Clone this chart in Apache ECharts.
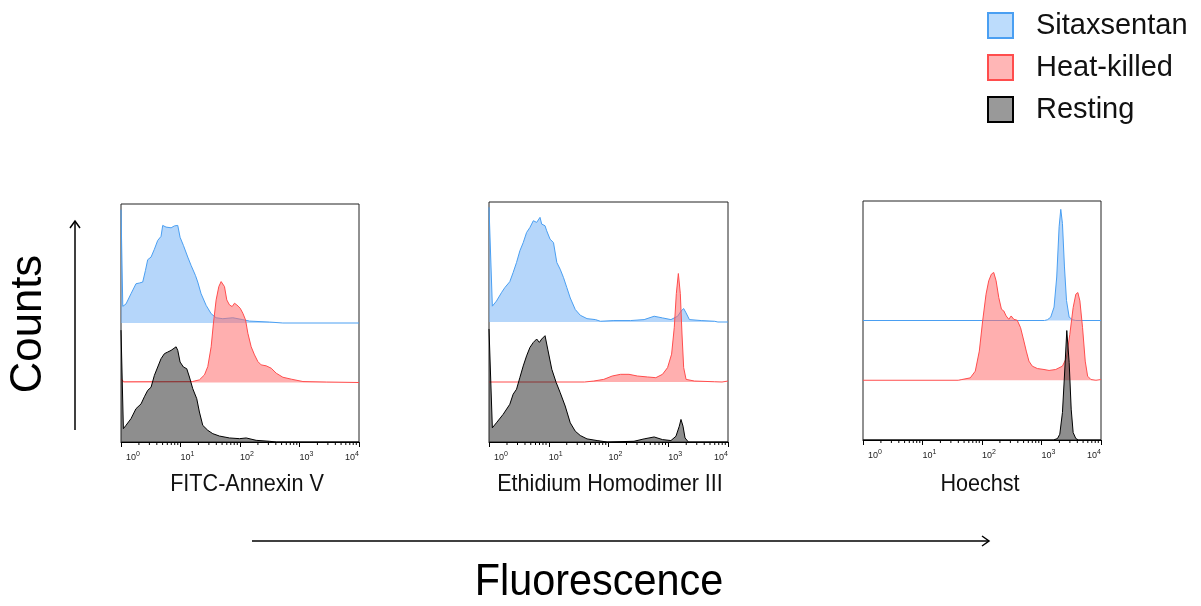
<!DOCTYPE html>
<html>
<head>
<meta charset="utf-8">
<script src="https://cdn.jsdelivr.net/npm/echarts@6/dist/echarts.min.js"></script>
<style>
  html, body { margin: 0; padding: 0; background: #fff; }
  #main { width: 1201px; height: 606px; }
</style>
</head>
<body>
<div id="main"></div>
<script>
const seriesNames = ['Sitaxsentan', 'Heat-killed', 'Resting']
const panelTitles = ['FITC-Annexin V', 'Ethidium Homodimer III', 'Hoechst']
const decadeTicks = [0, 1, 2, 3, 4]
// each histogram sits on its own baseline (% of panel height)
const offsets = [50, 25, 0]

// [log10 fluorescence, counts as % of panel height]
const annexinSitax = [[0,47.6],[0.03,7],[0.084,8],[0.168,12.3],[0.252,16.5],[0.309,16.8],[0.365,17.2],[0.41,22],[0.449,26.6],[0.505,27.7],[0.561,31],[0.617,34.7],[0.673,36.4],[0.701,41],[0.757,40.3],[0.785,41],[0.842,40],[0.898,40.8],[0.954,41],[0.993,36],[1.049,32.6],[1.122,27.7],[1.178,24.2],[1.251,20],[1.29,17.2],[1.346,12.3],[1.431,7.4],[1.515,3.9],[1.599,2.2],[1.711,1.8],[1.879,2.2],[2.048,1.4],[2.16,0.8],[2.497,0.4],[2.72,0],[4,0]]
const annexinHeat = [[0,1.5],[0.05,0.3],[1.2,0.4],[1.318,1.1],[1.403,3.2],[1.459,6.7],[1.515,15],[1.554,25],[1.599,34.7],[1.644,40.3],[1.683,42.4],[1.711,42.9],[1.739,40.3],[1.778,34.7],[1.823,32.6],[1.868,31.9],[1.907,33.3],[1.947,32.6],[2.003,31.2],[2.048,29.1],[2.093,26.3],[2.132,20.7],[2.188,15],[2.244,11.6],[2.3,8.8],[2.356,7.4],[2.44,7],[2.525,6],[2.609,3.9],[2.721,2.2],[2.861,1.4],[3.058,0.4],[3.45,0.2],[4,0]]
const annexinResting = [[0,47],[0.04,5.6],[0.084,7],[0.168,9.8],[0.252,14],[0.337,16],[0.393,19],[0.449,21.7],[0.505,23],[0.561,28],[0.617,31.5],[0.673,35],[0.729,37.1],[0.785,37.8],[0.842,38.5],[0.87,37.8],[0.926,40],[0.954,38.5],[0.993,33.6],[1.049,31.5],[1.105,30.8],[1.15,27.3],[1.206,22.4],[1.273,18.2],[1.318,12.6],[1.374,7],[1.459,4.9],[1.543,3.5],[1.655,2.5],[1.823,1.7],[1.992,1.4],[2.104,1.7],[2.272,0.7],[2.497,0.3],[2.609,0],[4,0]]

const ethdSitax = [[0,47.8],[0.056,6.6],[0.124,8.7],[0.208,12.2],[0.264,14.3],[0.348,16.8],[0.404,20.6],[0.461,24.8],[0.517,29.7],[0.573,33.1],[0.629,37.3],[0.685,39.4],[0.742,42.2],[0.798,41.5],[0.854,43.6],[0.882,40.8],[0.938,40.1],[0.966,38],[1.022,34.5],[1.079,33.1],[1.135,24.8],[1.191,22],[1.247,18.5],[1.303,14.3],[1.36,10],[1.444,5.2],[1.528,2.8],[1.64,1.4],[1.781,1],[1.865,0.3],[2.09,0.6],[2.371,0.6],[2.596,1],[2.764,2.4],[2.904,1.7],[3.045,1],[3.157,2.4],[3.213,4.5],[3.258,5.6],[3.298,3.8],[3.354,1],[3.551,0.6],[3.775,0.3],[3.831,0],[4,0]]
const ethdHeat = [[0,0],[1.6,0],[1.753,0.4],[1.921,1.1],[2.062,2.5],[2.202,3.2],[2.343,3.2],[2.483,2.5],[2.652,2.1],[2.792,1.8],[2.904,3.2],[2.989,6],[3.056,11.6],[3.101,22.8],[3.135,36.8],[3.169,45.2],[3.202,36.8],[3.23,20],[3.258,6],[3.298,1.1],[3.438,0.4],[3.775,0.1],[3.9,0],[4,0.4]]
const ethdResting = [[0,47.1],[0.056,5.9],[0.124,8],[0.236,11.5],[0.348,15.7],[0.404,19.9],[0.461,22],[0.517,26.9],[0.573,31.7],[0.629,35.9],[0.685,39.4],[0.742,41.5],[0.798,42.9],[0.843,41.5],[0.882,42.9],[0.938,44.3],[0.983,38.7],[1.051,30.3],[1.124,24.8],[1.191,20.6],[1.275,15],[1.36,8],[1.444,4.5],[1.528,2.7],[1.64,1.3],[1.809,0.6],[1.978,0],[2.427,0.3],[2.596,1.3],[2.764,2.1],[2.904,1],[3.045,0.6],[3.129,2.4],[3.185,6.6],[3.213,9.4],[3.247,6.6],[3.281,1.7],[3.337,0],[4,0]]

const hoechstSitax = [[0,0],[3.05,0],[3.099,0.3],[3.155,1.4],[3.211,5.6],[3.256,18.2],[3.296,39.2],[3.324,46.5],[3.352,40.6],[3.386,22.4],[3.42,8.4],[3.465,1.4],[3.521,0.3],[3.577,0],[4,0]]
const hoechstHeat = [[0,0],[1.6,0],[1.662,0.3],[1.803,1],[1.887,3.8],[1.955,12.2],[2.011,24.8],[2.068,36],[2.113,41.6],[2.158,44.4],[2.197,45.1],[2.237,41.6],[2.282,34.6],[2.327,29.7],[2.366,29],[2.406,26.9],[2.451,25.5],[2.49,26.9],[2.535,25.5],[2.592,25.1],[2.648,22],[2.704,16.4],[2.744,12.2],[2.789,8],[2.845,5.9],[2.93,4.9],[3.042,4.5],[3.127,4.1],[3.239,4.5],[3.352,5.9],[3.42,9.4],[3.476,19.2],[3.532,30.4],[3.577,36],[3.611,36.7],[3.645,33.2],[3.69,22],[3.735,8],[3.775,1.7],[3.831,0.3],[3.915,0],[4,0.3]]
const hoechstResting = [[0,0],[3.2,0],[3.268,0.6],[3.307,2.4],[3.352,11.5],[3.392,29.7],[3.425,45.8],[3.465,32.5],[3.499,12.9],[3.532,3.1],[3.577,0.6],[3.623,0],[4,0]]

const panels = [
  [annexinSitax, annexinHeat, annexinResting],
  [ethdSitax, ethdHeat, ethdResting],
  [hoechstSitax, hoechstHeat, hoechstResting]
]

const lineColors = ['#4a9ff2', '#ff4d4d', '#000000']
const fillColors = ['rgba(120,180,245,0.55)', 'rgba(255,110,110,0.55)', 'rgba(30,30,30,0.5)']
const legendFills = ['#bcdcfc', '#ffb6b6', '#999999']

const grids = [
  { left: 121, top: 204, width: 238, height: 238 },
  { left: 489, top: 202, width: 239, height: 240 },
  { left: 863, top: 201, width: 238, height: 239 }
]
const titleX = [247, 610, 980]

// minor ticks at 2..9 within each decade
const minorTicks = []
decadeTicks.slice(0, -1).forEach(d => {
  for (let k = 2; k <= 9; k++) minorTicks.push([d + Math.log10(k), 0])
})

const font = '"Liberation Sans", Arial, sans-serif'

const chart = echarts.init(document.getElementById('main'))

const series = []
panels.forEach((curves, p) => {
  curves.forEach((curve, s) => {
    series.push({
      name: seriesNames[s],
      type: 'line',
      xAxisIndex: p,
      yAxisIndex: p,
      symbol: 'none',
      data: curve.map(([x, c]) => [x, offsets[s] + c]),
      lineStyle: { color: lineColors[s], width: 1 },
      itemStyle: { color: lineColors[s] },
      areaStyle: { origin: offsets[s], color: fillColors[s], opacity: 1 },
      z: 2 + s
    })
  })
  series.push({
    type: 'custom',
    xAxisIndex: p,
    yAxisIndex: p,
    silent: true,
    clip: false,
    data: minorTicks,
    renderItem: (params, api) => {
      const pt = api.coord([api.value(0), 0])
      return {
        type: 'line',
        shape: { x1: pt[0], y1: pt[1], x2: pt[0], y2: pt[1] + 3 },
        style: { stroke: '#000', lineWidth: 1 }
      }
    },
    z: 10
  })
})

const texts = panelTitles.map((t, i) => ({
  type: 'text', x: titleX[i], y: 484, scaleX: 0.9,
  style: { text: t, font: '24px ' + font, fill: '#111', align: 'center', verticalAlign: 'middle' }
}))

chart.setOption({
  animation: false,
  backgroundColor: '#fff',
  grid: grids.map(g => ({ ...g, show: true, borderColor: '#222', borderWidth: 1 })),
  xAxis: grids.map((g, i) => ({
    type: 'value',
    gridIndex: i,
    min: 0,
    max: 4,
    interval: 1,
    splitLine: { show: false },
    axisLine: { lineStyle: { color: '#000', width: 1 } },
    axisTick: { length: 5, lineStyle: { color: '#000' } },
    axisLabel: {
      margin: 9,
      align: 'left',
      alignMaxLabel: 'right',
      formatter: v => (v === 0 ? '{f|10}' : '{b|10}') + '{s|' + v + '}',
      rich: {
        b: { fontSize: 9, fontFamily: font, color: '#222' },
        f: { fontSize: 9, fontFamily: font, color: '#222', padding: [0, 0, 0, 5] },
        s: { fontSize: 7, fontFamily: font, color: '#222', padding: [0, 0, 7, 0] }
      }
    }
  })),
  yAxis: grids.map((g, i) => ({
    type: 'value', gridIndex: i, min: 0, max: 100, show: false
  })),
  legend: {
    orient: 'vertical',
    left: 987,
    top: 11,
    padding: 0,
    itemWidth: 25,
    itemHeight: 25,
    itemGap: 13,
    textStyle: { fontSize: 29, lineHeight: 25, fontFamily: font, color: '#111', padding: [0, 0, 0, 18] },
    data: seriesNames.map((n, i) => ({
      name: n,
      icon: 'rect',
      itemStyle: { color: legendFills[i], borderColor: lineColors[i], borderWidth: 2 }
    }))
  },
  graphic: [
    ...texts,
    {
      type: 'text', x: 29, y: 324, rotation: Math.PI / 2, scaleX: 0.97,
      style: { text: 'Counts', font: '45px ' + font, fill: '#000', align: 'center', verticalAlign: 'middle' }
    },
    {
      type: 'text', x: 599, y: 583, scaleX: 0.92,
      style: { text: 'Fluorescence', font: '45px ' + font, fill: '#000', align: 'center', verticalAlign: 'middle' }
    },
    // vertical arrow
    { type: 'line', shape: { x1: 75, y1: 430, x2: 75, y2: 221 }, style: { stroke: '#000', lineWidth: 1.5 } },
    { type: 'polyline', shape: { points: [[70, 228], [75, 221], [80, 228]] }, style: { stroke: '#000', lineWidth: 1.5, fill: null } },
    // horizontal arrow
    { type: 'line', shape: { x1: 252, y1: 541, x2: 989, y2: 541 }, style: { stroke: '#000', lineWidth: 1.5 } },
    { type: 'polyline', shape: { points: [[982, 536], [989, 541], [982, 546]] }, style: { stroke: '#000', lineWidth: 1.5, fill: null } }
  ],
  series
})
</script>
</body>
</html>
